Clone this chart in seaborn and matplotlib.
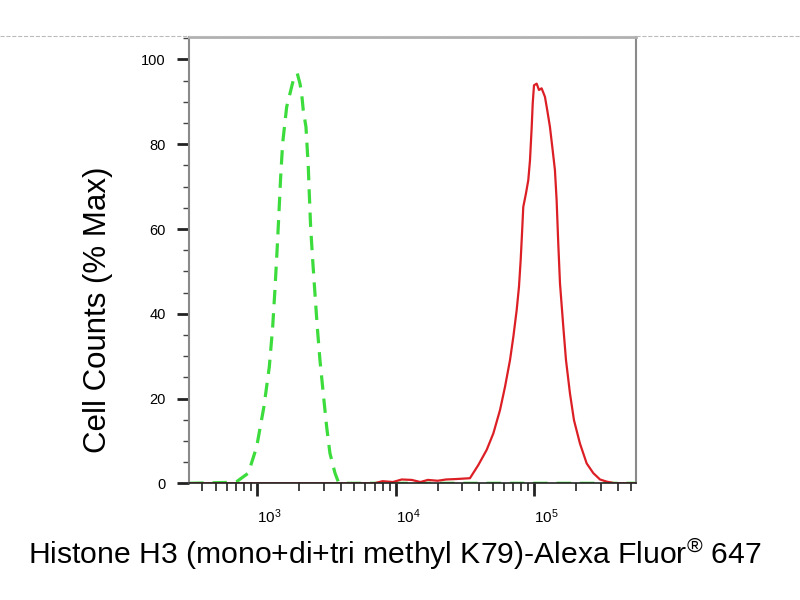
import numpy as np
import pandas as pd
import matplotlib
matplotlib.use("Agg")
import matplotlib.pyplot as plt
from matplotlib.lines import Line2D
from matplotlib.ticker import MultipleLocator, LogLocator, NullFormatter
import seaborn as sns

# isotype control (green dashed)
ctrl_x = [322, 600, 708, 859, 987, 1114, 1218, 1288, 1337, 1390, 1429, 1471, 1520,
          1625, 1814, 1939, 2028, 2084, 2142, 2240, 2291, 2328, 2367, 2421, 2504,
          2601, 2703, 2826, 2986, 3160, 3337, 3630, 3829, 4500, 545000]
ctrl_y = [0, 0.2, 0.4, 2.4, 8.6, 18.1, 27.5, 36.9, 45.6, 55.8, 63.7, 72.3, 80.2,
          88.8, 95.1, 96.7, 94.3, 92.0, 88.0, 84.1, 78.6, 74.7, 68.4, 60.5, 52.7,
          44.8, 36.9, 29.1, 21.2, 13.3, 7.1, 2.4, 0.4, 0, 0]

# stained sample (red solid)
stain_x = [322, 7000, 8000, 9500, 11000, 13000, 15000, 17000, 20000, 23000, 27000,
           34200, 39300, 45200, 50500, 56400, 61300, 66600, 70400, 74400, 77300,
           79500, 81300, 83000, 86800, 90200, 92800, 95500, 97100, 99200, 103700,
           107800, 112600, 119000, 123700, 129300, 135300, 140500, 144500, 148500,
           152800, 161500, 168800, 180400, 192800, 212900, 238100, 265900, 297300,
           331800, 380000, 545000]
stain_y = [0, 0, 0.5, 0.3, 0.9, 0.8, 0.3, 0.8, 0.6, 0.9, 1.0,
           1.2, 4.3, 7.9, 11.8, 17.3, 22.8, 29.1, 34.6, 40.9, 46.4,
           52.7, 59.0, 65.2, 68.4, 71.5, 76.2, 84.1, 89.6, 93.9, 94.3,
           92.8, 93.2, 91.2, 88.0, 84.1, 78.6, 73.9, 66.8, 56.6,
           47.2, 36.9, 29.1, 21.2, 14.9, 9.4, 4.7, 2.4, 0.9,
           0.4, 0, 0]

y_ticks = [0, 20, 40, 60, 80, 100]
x_label = r"Histone H3 (mono+di+tri methyl K79)-Alexa Fluor$^{\mathrm{®}}$ 647"
y_label = "Cell Counts (% Max)"

sns.set_style("ticks")
plt.rcParams['font.family'] = ['Liberation Sans', 'DejaVu Sans']
plt.rcParams['mathtext.fontset'] = 'custom'
plt.rcParams['mathtext.rm'] = 'Liberation Sans'
plt.rcParams['mathtext.it'] = 'Liberation Sans:italic'
plt.rcParams['text.color'] = 'black'
plt.rcParams['axes.labelcolor'] = 'black'
plt.rcParams['xtick.labelcolor'] = 'black'
plt.rcParams['ytick.labelcolor'] = 'black'

ctrl = pd.DataFrame({'x': ctrl_x, 'y': ctrl_y})
stain = pd.DataFrame({'x': stain_x, 'y': stain_y})

fig = plt.figure(figsize=(8, 6), dpi=100)
ax = fig.add_axes([0.2366, 0.1945, 0.559, 0.7438])

sns.lineplot(data=ctrl, x='x', y='y', ax=ax, color='#3ddc3d', lw=2.3,
             estimator=None)
ax.lines[-1].set_dashes((4.5, 2.8))
sns.lineplot(data=stain, x='x', y='y', ax=ax, color='#dc1f25', lw=1.6,
             estimator=None)

ax.set_xscale('log')
ax.set_xlim(322, 545000)
ax.set_ylim(0, 105.3)

ax.set_yticks(y_ticks)
ax.yaxis.set_minor_locator(MultipleLocator(5))
ax.xaxis.set_major_locator(LogLocator(base=10, numticks=10))
ax.xaxis.set_minor_locator(LogLocator(base=10, subs=np.arange(2, 10), numticks=20))
ax.xaxis.set_minor_formatter(NullFormatter())

ax.tick_params(axis='y', which='major', length=9, width=2, labelsize=10.5, pad=8, color='#222222')
ax.tick_params(axis='y', which='minor', length=4.5, width=1, color='#444444')
ax.tick_params(axis='x', which='major', length=9, width=2, labelsize=11, pad=8, color='#222222')
ax.tick_params(axis='x', which='minor', length=5.5, width=1.2, color='#222222')
for lbl in ax.get_xticklabels():
    lbl.set_horizontalalignment('left')

for s in ['left', 'right', 'top']:
    ax.spines[s].set_color('#8a8a8a')
    ax.spines[s].set_linewidth(1.5)
ax.spines['top'].set_color('#b0b0b0')
ax.spines['top'].set_linewidth(2)
ax.spines['bottom'].set_color('#222222')
ax.spines['bottom'].set_linewidth(1.2)

ax.set_xlabel(x_label, fontsize=21.7, color='black')
ax.set_ylabel(y_label, fontsize=22.5, color='black')
ax.xaxis.set_label_coords(0.46, -0.118)
ax.yaxis.set_label_coords(-0.17, 0.388)

# faint dashed line across the whole picture at the top
fig.add_artist(Line2D([0, 1], [0.94, 0.94], transform=fig.transFigure,
                      ls='--', color='#bbbbbb', lw=0.8))

fig.savefig('out.png', dpi=100)
